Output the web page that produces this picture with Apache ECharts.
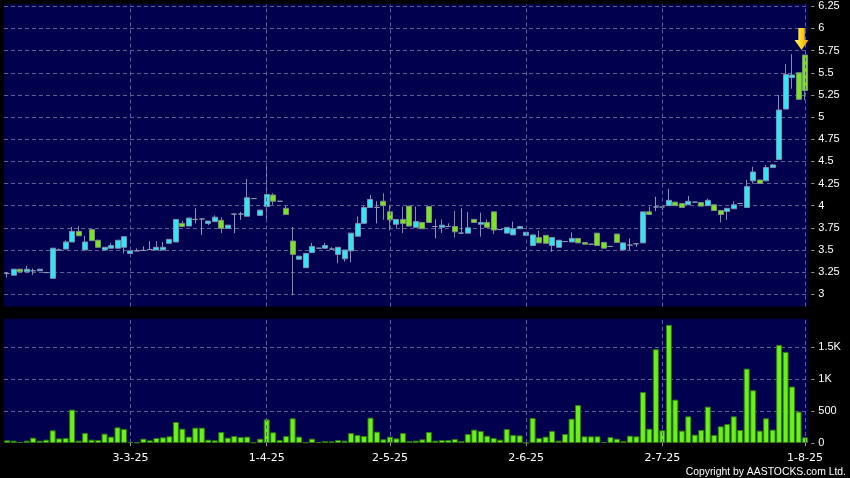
<!DOCTYPE html>
<html>
<head>
<meta charset="utf-8">
<script src="https://cdn.jsdelivr.net/npm/echarts@6/dist/echarts.min.js"></script>
<style>
html,body{margin:0;padding:0;background:#000;}
#chart{width:850px;height:478px;}
</style>
</head>
<body>
<div id="chart"></div>
<script>
// ---- data ----
const opens = [3.235,3.215,3.283,3.253,3.265,3.265,3.245,3.18,3.50,3.51,3.59,3.71,3.50,3.73,3.61,3.50,3.52,3.52,3.53,3.46,
3.49,3.495,3.505,3.50,3.50,3.575,3.59,3.80,3.77,3.845,3.85,3.80,3.82,3.834,3.744,3.905,3.905,3.88,4.08,3.89,
3.99,4.12,4.05,3.97,3.60,3.395,3.30,3.47,3.52,3.52,3.51,3.45,3.40,3.49,3.655,3.80,3.98,3.98,4.05,3.93,
3.79,3.845,3.995,3.755,3.81,3.99,3.765,3.755,3.765,3.765,3.69,3.69,3.845,3.79,3.81,3.93,3.73,3.69,3.67,3.74,
3.665,3.55,3.64,3.665,3.55,3.53,3.595,3.59,3.63,3.585,3.565,3.69,3.585,3.54,3.68,3.50,3.555,3.57,3.58,3.93,
3.985,3.985,4.00,4.04,4.025,4.01,4.04,4.035,4.00,4.01,3.945,3.935,3.965,4.025,3.98,4.28,4.29,4.28,4.43,4.52,
5.09,5.445,5.50,5.70];
const closes = [3.235,3.283,3.253,3.283,3.265,3.283,3.245,3.52,3.50,3.59,3.71,3.66,3.59,3.605,3.53,3.53,3.55,3.61,3.65,3.49,
3.49,3.495,3.505,3.53,3.53,3.62,3.845,3.765,3.86,3.845,3.85,3.826,3.87,3.744,3.78,3.905,3.905,4.09,4.08,3.95,
4.126,4.05,4.05,3.90,3.45,3.43,3.46,3.54,3.52,3.55,3.51,3.53,3.50,3.69,3.80,3.98,4.07,3.98,4.00,3.84,
3.845,3.80,3.77,3.82,3.74,3.81,3.765,3.78,3.765,3.705,3.69,3.75,3.81,3.81,3.755,3.725,3.73,3.755,3.74,3.765,
3.70,3.67,3.58,3.575,3.64,3.61,3.595,3.63,3.58,3.565,3.565,3.55,3.52,3.54,3.585,3.58,3.555,3.57,3.93,3.90,
3.985,3.985,4.06,4.00,3.98,4.05,4.04,3.995,4.06,3.945,3.90,3.97,4.01,4.025,4.215,4.38,4.25,4.43,4.46,5.08,
5.48,5.475,5.20,5.30];
const lows = [3.19,3.215,3.25,3.253,3.22,3.265,3.24,3.18,3.50,3.51,3.59,3.66,3.50,3.605,3.53,3.50,3.52,3.52,3.46,3.46,
3.49,3.495,3.505,3.50,3.50,3.575,3.59,3.765,3.77,3.80,3.67,3.78,3.82,3.69,3.744,3.69,3.84,3.88,4.08,3.89,
3.82,4.01,4.05,3.90,2.99,3.395,3.30,3.47,3.52,3.52,3.51,3.35,3.37,3.36,3.655,3.80,3.98,3.80,3.84,3.72,
3.75,3.69,3.77,3.755,3.74,3.81,3.63,3.69,3.765,3.64,3.69,3.69,3.81,3.65,3.755,3.68,3.73,3.69,3.67,3.74,
3.665,3.55,3.58,3.575,3.48,3.53,3.595,3.59,3.58,3.565,3.565,3.55,3.52,3.54,3.585,3.50,3.50,3.535,3.58,3.90,
3.94,3.95,4.00,4.00,3.98,4.01,4.04,3.995,4.00,3.945,3.81,3.84,3.965,4.025,3.98,4.25,4.25,4.28,4.43,4.52,
5.09,5.32,5.20,5.19];
const highs = [3.25,3.283,3.283,3.32,3.29,3.283,3.25,3.52,3.515,3.61,3.76,3.77,3.66,3.73,3.61,3.53,3.58,3.61,3.65,3.49,
3.515,3.54,3.60,3.60,3.59,3.62,3.845,3.83,3.86,3.97,3.85,3.826,3.89,3.87,3.78,3.905,3.93,4.30,4.08,3.95,
4.456,4.14,4.05,4.00,3.76,3.43,3.46,3.58,3.52,3.58,3.53,3.53,3.50,3.69,3.88,4.00,4.12,4.05,4.14,4.00,
3.845,3.99,3.995,3.99,3.81,3.99,3.845,3.845,3.80,3.94,3.97,3.93,3.845,3.92,3.845,3.93,3.73,3.755,3.82,3.765,
3.70,3.67,3.72,3.665,3.64,3.61,3.595,3.70,3.63,3.585,3.565,3.69,3.585,3.54,3.68,3.58,3.63,3.57,3.93,3.99,
4.10,4.00,4.19,4.04,4.025,4.11,4.04,4.035,4.08,4.01,3.945,3.97,4.05,4.025,4.29,4.44,4.29,4.46,4.47,5.25,
5.60,5.71,5.50,5.70];
const volumes = [42,37,16,37,84,37,52,199,73,79,524,37,157,52,47,147,100,246,220,16,
8,68,42,79,89,105,330,225,100,241,241,52,42,173,84,110,94,100,10,68,
372,168,47,110,388,100,10,68,16,31,26,47,37,157,126,110,398,178,58,100,
73,157,31,37,58,173,37,47,47,63,31,141,210,189,115,79,52,220,126,120,
5,393,79,100,189,37,141,382,597,105,105,105,16,94,68,31,115,105,801,225,
1472,199,1855,681,194,419,131,204,571,126,262,299,419,204,1168,828,194,388,210,1540,
1430,886,493,89];
const categories = opens.map((_, i) => 'd' + i);
const tickIndex = [19, 40, 59, 80, 101, 123];
const tickLabels = ['3-3-25', '1-4-25', '2-5-25', '2-6-25', '2-7-25', '1-8-25'];
const priceMin = 2.862, priceMax = 6.2726;
const volMin = 0, volMax = 1951;
const copyrightText = 'Copyright by AASTOCKS.com Ltd.';

// ---- chart ----
const FONT = 'Liberation Sans, Arial, sans-serif';
const XFONT = 'DejaVu Sans, sans-serif';
const gridLine = { color: '#5f5f98', width: 1, type: [4, 3] };
const candleData = opens.map((o, i) => [o, closes[i], lows[i], highs[i]]);
const tickSet = new Set(tickIndex);
const vLines = tickIndex.map(i => ({ xAxis: categories[i] }));
const last = opens.length - 1;

const chart = echarts.init(document.getElementById('chart'), null, { renderer: 'canvas' });
chart.setOption({
  animation: false,
  backgroundColor: '#000000',
  textStyle: { fontFamily: FONT },
  grid: [
    { left: 4, right: 41.7, top: 4.3, height: 302.2, show: true, backgroundColor: '#00004f', borderWidth: 0 },
    { left: 4, right: 41.7, top: 318.7, height: 124.3, show: true, backgroundColor: '#00004f', borderWidth: 0 }
  ],
  xAxis: [
    { type: 'category', gridIndex: 0, data: categories, boundaryGap: true,
      axisLine: { show: false }, axisTick: { show: false }, axisLabel: { show: false }, splitLine: { show: false } },
    { type: 'category', gridIndex: 1, data: categories, boundaryGap: true, offset: 3,
      axisLine: { show: false },
      axisTick: { show: true, alignWithLabel: true, length: 3, interval: (i) => tickSet.has(i), lineStyle: { color: '#9a9a9a' } },
      axisLabel: { interval: (i) => tickSet.has(i), margin: 7, color: '#ffffff', fontSize: 11, fontFamily: XFONT,
        formatter: (v, i) => tickLabels[tickIndex.indexOf(i)] || '' },
      splitLine: { show: false } }
  ],
  yAxis: [
    { type: 'value', gridIndex: 0, position: 'right', min: priceMin, max: priceMax, minInterval: 0.25, maxInterval: 0.25,
      offset: 3, scale: true,
      axisLine: { show: false },
      axisTick: { show: true, length: 3, lineStyle: { color: '#9a9a9a' } },
      axisLabel: { color: '#ffffff', fontSize: 11, fontFamily: FONT, margin: 7, showMinLabel: false, showMaxLabel: false },
      splitLine: { show: true, lineStyle: gridLine, showMinLine: false, showMaxLine: false } },
    { type: 'value', gridIndex: 1, position: 'right', min: volMin, max: volMax, minInterval: 500, maxInterval: 500,
      offset: 3,
      axisLine: { show: false },
      axisTick: { show: true, length: 3, lineStyle: { color: '#9a9a9a' } },
      axisLabel: { color: '#ffffff', fontSize: 11, fontFamily: FONT, margin: 7, showMaxLabel: false,
        formatter: (v) => v >= 1000 ? (v / 1000) + 'K' : String(v) },
      splitLine: { show: true, lineStyle: gridLine, showMinLine: false, showMaxLine: false } }
  ],
  series: [
    { type: 'candlestick', xAxisIndex: 0, yAxisIndex: 0, data: candleData, barWidth: 5.5,
      itemStyle: { color: '#2fe6f4', color0: '#78e61c', borderColor: '#7f90b0', borderColor0: '#7f9080',
        borderColorDoji: '#8e9ab4', borderWidth: 1 },
      markLine: { silent: true, symbol: 'none', label: { show: false }, lineStyle: gridLine, data: vLines, animation: false },
      markPoint: { silent: true, animation: false, label: { show: false },
        data: [{ coord: [categories[last], highs[last]],
          symbol: 'path://M3.5,0 L9.5,0 L9.5,12 L13,12 L6.5,22 L0,12 L3.5,12 Z',
          symbolSize: [14, 22], symbolOffset: [-3.5, -16],
          itemStyle: { color: new echarts.graphic.LinearGradient(0, 0, 1, 0, [
            { offset: 0, color: '#fff27a' }, { offset: 0.5, color: '#ffd21a' }, { offset: 1, color: '#e89a00' }]) } }] } },
    { type: 'bar', xAxisIndex: 1, yAxisIndex: 1, data: volumes, barWidth: 6,
      itemStyle: { color: '#6cf01c', borderColor: '#2f7a0c', borderWidth: 1 },
      markLine: { silent: true, symbol: 'none', label: { show: false }, lineStyle: gridLine, data: vLines, animation: false } }
  ],
  graphic: [
    { type: 'text', right: 4, bottom: 1, silent: true,
      style: { text: copyrightText, fill: '#ffffff', font: '10.4px ' + FONT } }
  ]
});
</script>
</body>
</html>
